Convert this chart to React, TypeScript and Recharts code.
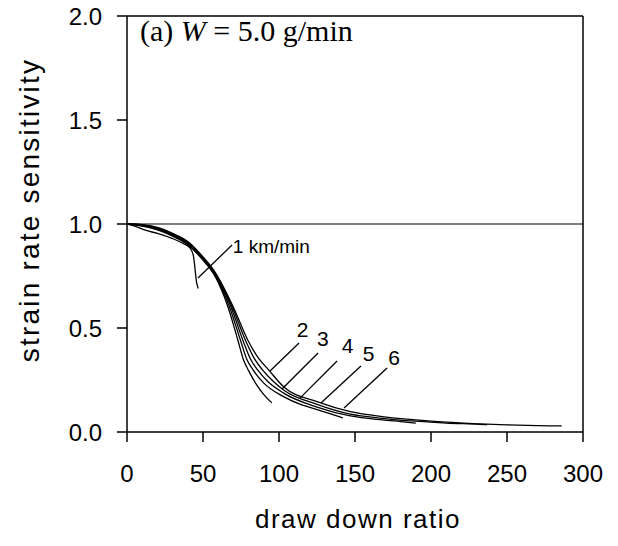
import { LineChart, Line, XAxis, YAxis, ReferenceLine, ReferenceDot } from "recharts";

// take-up speed curves: [draw down ratio, strain rate sensitivity]
const speed1: [number, number][] = [
  [0, 1], [5, 0.99], [12, 0.97], [20, 0.955], [30, 0.93], [36, 0.91], [41.4, 0.885], [43.6, 0.85], [45.9, 0.715], [46.9, 0.69],
];
const speed2: [number, number][] = [
  [0, 1], [10, 0.99], [20, 0.972], [30, 0.942], [40, 0.9], [50, 0.826], [58, 0.748], [66.5, 0.6], [73, 0.44], [76.5, 0.35], [80, 0.295], [85, 0.23], [90, 0.18], [95.3, 0.14],
];
const speed3: [number, number][] = [
  [0, 1], [10, 0.992], [20, 0.975], [30, 0.945], [40, 0.904], [50, 0.83], [58, 0.753], [67.5, 0.6], [74.7, 0.44], [78.8, 0.35], [82.8, 0.3], [90, 0.235], [103, 0.17], [115, 0.13], [125, 0.108], [135, 0.085], [142, 0.068],
];
const speed4: [number, number][] = [
  [0, 1], [10, 0.994], [20, 0.978], [30, 0.948], [40, 0.908], [50, 0.834], [58, 0.758], [68.5, 0.6], [76.3, 0.44], [81.3, 0.35], [85.8, 0.3], [93, 0.24], [103, 0.187], [125, 0.12], [147, 0.077], [168, 0.058], [180, 0.05], [190, 0.043],
];
const speed5: [number, number][] = [
  [0, 1], [10, 0.996], [20, 0.981], [30, 0.952], [40, 0.912], [50, 0.838], [58, 0.763], [69.3, 0.6], [78, 0.44], [84, 0.35], [89, 0.3], [96, 0.245], [103, 0.202], [125, 0.133], [147, 0.086], [168, 0.066], [190, 0.052], [210, 0.043], [232, 0.037], [237, 0.035],
];
const speed6: [number, number][] = [
  [0, 1], [10, 0.997], [20, 0.984], [30, 0.955], [40, 0.916], [50, 0.842], [58, 0.768], [70, 0.6], [79.6, 0.44], [87, 0.35], [93, 0.3], [103, 0.218], [125, 0.146], [147, 0.098], [168, 0.074], [190, 0.058], [210, 0.047], [232, 0.039], [250, 0.034], [270, 0.031], [286, 0.029],
];

const curves = [speed1, speed2, speed3, speed4, speed5, speed6];

const xTicks = [0, 50, 100, 150, 200, 250, 300];
const yTicks = [0, 0.5, 1.0, 1.5, 2.0];

// curve labels: text, anchor point, leader start, leader end
const labelText = ["1 km/min", "2", "3", "4", "5", "6"];
const labelPos: [number, number][] = [[69.6, 0.861], [115.5, 0.457], [128.9, 0.413], [145.1, 0.38], [158.9, 0.341], [175.7, 0.322]];
const leaderFrom: [number, number][] = [[69.1, 0.899], [113.2, 0.428], [125.7, 0.38], [138.2, 0.341], [153.9, 0.317], [171.1, 0.308]];
const leaderTo: [number, number][] = [[46.7, 0.74], [94.1, 0.293], [102, 0.207], [113.8, 0.163], [127.6, 0.139], [142.8, 0.115]];

const sans = "'Liberation Sans', Arial, sans-serif";
const serif = "'Liberation Serif', 'Times New Roman', serif";

const toPts = (arr: [number, number][]) => arr.map(([x, y]) => ({ x, y }));

export default function App() {
  return (
    <div style={{ position: "absolute", left: 0, top: 0, background: "#fff" }}>
      <LineChart width={618} height={546} margin={{ top: 16, right: 35, left: 0, bottom: 0 }}>
        <XAxis
          dataKey="x"
          type="number"
          domain={[0, 300]}
          ticks={xTicks}
          allowDataOverflow
          height={114}
          tickSize={10}
          tickMargin={23}
          axisLine={{ stroke: "#000", strokeWidth: 1.5 }}
          tickLine={{ stroke: "#000", strokeWidth: 1.5 }}
          tick={{ fill: "#000", fontSize: 24, fontFamily: sans }}
          label={{
            content: () => (
              <text x={358} y={528} textAnchor="middle" fontSize={26} letterSpacing={1.5} fontFamily={sans} fill="#000">
                draw down ratio
              </text>
            ),
          }}
        />
        <YAxis
          type="number"
          domain={[0, 2]}
          ticks={yTicks}
          width={127}
          tickSize={10}
          tickMargin={15}
          tickFormatter={(v: number) => v.toFixed(1)}
          axisLine={{ stroke: "#000", strokeWidth: 1.5 }}
          tickLine={{ stroke: "#000", strokeWidth: 1.5 }}
          tick={{ fill: "#000", fontSize: 24, fontFamily: sans }}
          label={{
            content: () => (
              <text
                x={39}
                y={210}
                transform="rotate(-90 39 210)"
                textAnchor="middle"
                fontSize={28}
                letterSpacing={2.2}
                fontFamily={sans}
                fill="#000"
              >
                strain rate sensitivity
              </text>
            ),
          }}
        />
        <ReferenceLine y={2} stroke="#000" strokeWidth={1.5} />
        <ReferenceLine x={300} stroke="#000" strokeWidth={1.5} />
        <ReferenceLine y={1} stroke="#000" strokeWidth={1.2} />
        {curves.map((c, i) => (
          <Line
            key={`speed-${i}`}
            data={toPts(c)}
            dataKey="y"
            type="monotone"
            dot={false}
            stroke="#000"
            strokeWidth={1.3}
            isAnimationActive={false}
          />
        ))}
        {leaderFrom.map((p, i) => (
          <ReferenceLine
            key={`lead-${i}`}
            segment={[{ x: p[0], y: p[1] }, { x: leaderTo[i][0], y: leaderTo[i][1] }]}
            stroke="#000"
            strokeWidth={1.3}
          />
        ))}
        {labelPos.map((p, i) => (
          <ReferenceDot
            key={`lab-${i}`}
            x={p[0]}
            y={p[1]}
            r={0}
            shape={(props: any) => (
              <text
                x={props.cx}
                y={props.cy}
                textAnchor={i === 0 ? "start" : "middle"}
                fontSize={i === 0 ? 19 : 21}
                fontFamily={sans}
                fill="#000"
              >
                {labelText[i]}
              </text>
            )}
          />
        ))}
        <ReferenceDot
          x={8.6}
          y={1.88}
          r={0}
          shape={(props: any) => (
            <text x={props.cx} y={props.cy} fontSize={30} fontFamily={serif} fill="#000">
              (a) <tspan fontStyle="italic">W</tspan> = 5.0 g/min
            </text>
          )}
        />
      </LineChart>
    </div>
  );
}
